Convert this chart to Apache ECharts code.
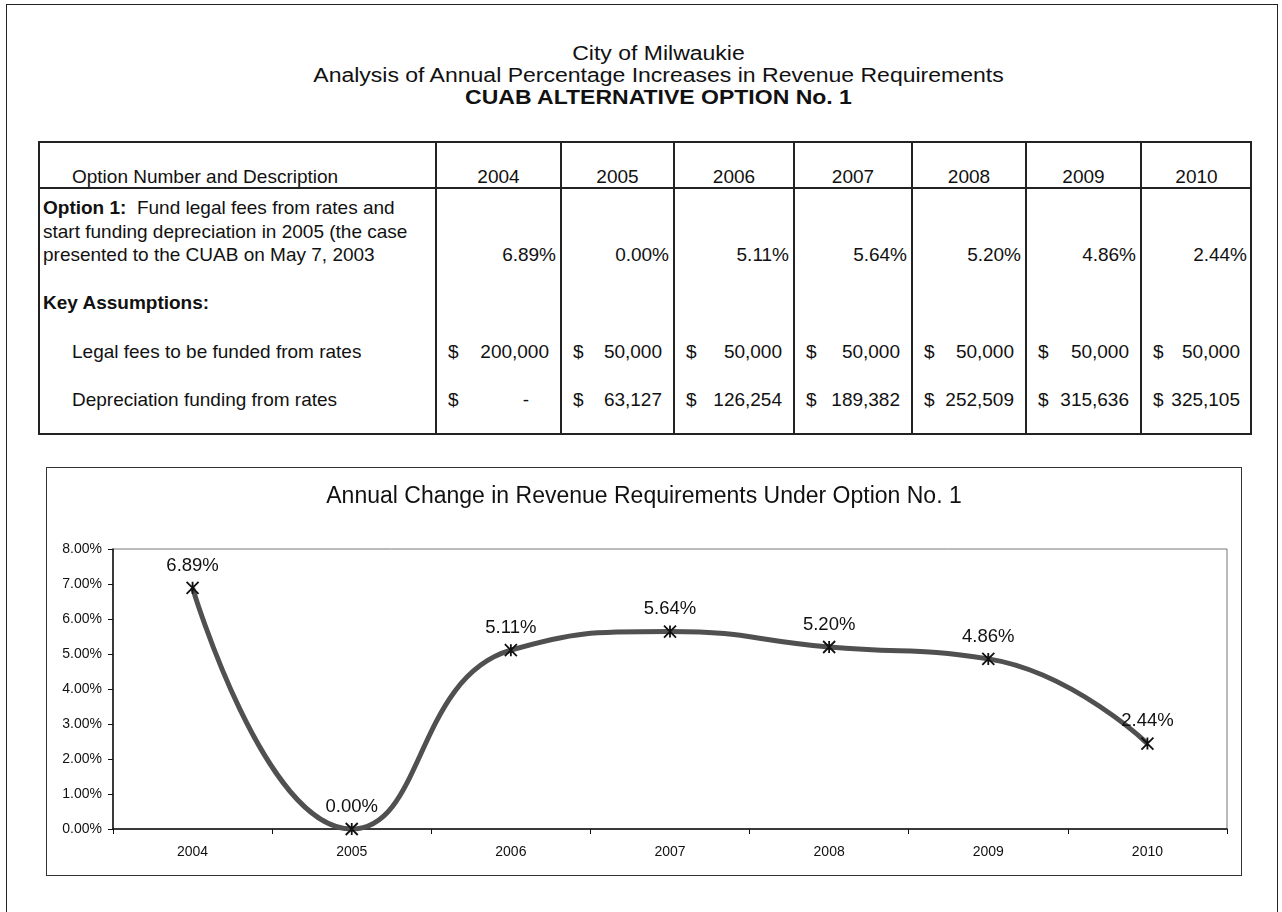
<!DOCTYPE html>
<html><head><meta charset="utf-8">
<script src="https://cdn.jsdelivr.net/npm/echarts@6/dist/echarts.min.js"></script>
<style>
html,body{margin:0;padding:0;background:#fff;}
body{width:1282px;height:912px;position:relative;overflow:hidden;font-family:"Liberation Sans",Arial,sans-serif;color:#111;}
#page{position:absolute;left:6px;top:4px;width:1270px;height:960px;border:1.5px solid #222;}
.ttl{position:absolute;left:10px;width:1300px;text-align:center;font-size:20px;line-height:24px;height:24px;white-space:nowrap;transform:scaleX(1.15);transform-origin:660px 0;}
#tbl{position:absolute;left:38px;top:141px;width:1214px;height:294px;outline:2px solid #222;outline-offset:-2px;font-size:19px;}
.vl{position:absolute;top:0;width:2px;height:100%;background:#222;}
.hl{position:absolute;left:0;height:2px;width:100%;background:#222;}
.t{position:absolute;white-space:nowrap;line-height:24px;height:24px;}
#chartbox{position:absolute;left:46px;top:467px;width:1196px;height:409px;border:1.5px solid #333;box-sizing:border-box;pointer-events:none;}
#chart{position:absolute;left:46px;top:467px;width:1196px;height:409px;}
</style></head>
<body>
<div id="page"></div>
<div id="titles"></div>
<div id="tbl"></div>
<div id="chart"></div>
<div id="chartbox"></div>
<script>
// ---- data ----
const titleLines = ['City of Milwaukie', 'Analysis of Annual Percentage Increases in Revenue Requirements', 'CUAB ALTERNATIVE OPTION No. 1'];
const years = ['2004', '2005', '2006', '2007', '2008', '2009', '2010'];
const pctChange = [6.89, 0.00, 5.11, 5.64, 5.20, 4.86, 2.44];
const legalFees = [200000, 50000, 50000, 50000, 50000, 50000, 50000];
const depreciation = [0, 63127, 126254, 189382, 252509, 315636, 325105];
const yTicks = [0, 1, 2, 3, 4, 5, 6, 7, 8];
const headerLabel = 'Option Number and Description';
const optionLines = ['Fund legal fees from rates and', 'start funding depreciation in 2005 (the case', 'presented to the CUAB on May 7, 2003'];
const keyLabel = 'Key Assumptions:';
const legalLabel = 'Legal fees to be funded from rates';
const deprLabel = 'Depreciation funding from rates';
const chartTitle = 'Annual Change in Revenue Requirements Under Option No. 1';

// ---- page titles ----
const titleY = [53, 75, 97];
titleLines.forEach((s, i) => {
  const d = document.createElement('div');
  d.className = 'ttl';
  d.textContent = s;
  d.style.top = (titleY[i] - 12) + 'px';
  if (i === 2) d.style.fontWeight = 'bold';
  document.getElementById('titles').appendChild(d);
});

// ---- table (HTML text) ----
const tbl = document.getElementById('tbl');
const TW = 1214;
const colEdges = [0, 398, 523, 636, 756, 874, 988, 1103, 1214]; // relative to table left
function addText(txt, x, yc, opts) {
  const d = document.createElement('div');
  d.className = 't';
  d.textContent = txt;
  d.style.top = (yc - 12) + 'px';
  if (opts && opts.align === 'right') { d.style.right = (TW - x) + 'px'; }
  else if (opts && opts.align === 'center') { d.style.left = (x - 100) + 'px'; d.style.width = '200px'; d.style.textAlign = 'center'; }
  else { d.style.left = x + 'px'; }
  if (opts && opts.bold) d.style.fontWeight = 'bold';
  if (opts && opts.html) d.innerHTML = opts.html;
  tbl.appendChild(d);
}
for (let i = 1; i < colEdges.length - 1; i++) {
  const v = document.createElement('div'); v.className = 'vl'; v.style.left = (colEdges[i] - 1) + 'px'; tbl.appendChild(v);
}
const h = document.createElement('div'); h.className = 'hl'; h.style.top = '46px'; tbl.appendChild(h);
const yHead = 36, yOpt = [67, 91, 114], yKey = 162, yLegal = 211, yDepr = 259;
addText(headerLabel, 34, yHead);
addText('', 5, yOpt[0], {html: '<b>Option 1:</b>&nbsp; ' + optionLines[0]});
addText(optionLines[1], 5, yOpt[1]);
addText(optionLines[2], 5, yOpt[2]);
addText(keyLabel, 5, yKey, {bold: true});
addText(legalLabel, 34, yLegal);
addText(deprLabel, 34, yDepr);
years.forEach((yr, i) => {
  const L = colEdges[i + 1], R = colEdges[i + 2];
  addText(yr, (L + R) / 2, yHead, {align: 'center'});
  addText(pctChange[i].toFixed(2) + '%', R - 5, yOpt[2], {align: 'right'});
  addText('$', L + 12, yLegal);
  addText(legalFees[i].toLocaleString('en-US'), R - 12, yLegal, {align: 'right'});
  addText('$', L + 12, yDepr);
  if (depreciation[i] === 0) addText('-', R - 32, yDepr, {align: 'right'});
  else addText(depreciation[i].toLocaleString('en-US'), R - 12, yDepr, {align: 'right'});
});

// ---- chart ----
const chart = echarts.init(document.getElementById('chart'), null, {renderer: 'canvas'});
const font = 'Liberation Sans';
chart.setOption({
  animation: false,
  backgroundColor: 'transparent',
  title: {
    text: chartTitle, left: 'center', top: 13,
    textStyle: {fontSize: 23, fontWeight: 'normal', color: '#111', fontFamily: font}
  },
  grid: {left: 67, right: 15, top: 82, bottom: 47, show: true, borderColor: '#777', borderWidth: 1},
  xAxis: {
    type: 'category', data: years, boundaryGap: true,
    axisLine: {lineStyle: {color: '#111', width: 1.5}},
    axisTick: {show: true, length: 5, lineStyle: {color: '#111'}},
    axisLabel: {fontSize: 14, color: '#111', fontFamily: font, margin: 16}
  },
  yAxis: {
    type: 'value', min: yTicks[0], max: yTicks[yTicks.length - 1], interval: 1,
    axisLine: {show: true, lineStyle: {color: '#111', width: 1.5}},
    axisTick: {show: true, length: 5, lineStyle: {color: '#111'}},
    splitLine: {show: false},
    axisLabel: {fontSize: 14, color: '#111', fontFamily: font, margin: 11,
      formatter: v => v.toFixed(2) + '%'}
  },
  series: [{
    type: 'line', data: pctChange, smooth: 0.5,
    lineStyle: {color: '#505050', width: 5},
    symbol: 'path://M0,0L10,10M10,0L0,10M5,0L5,10',
    symbolSize: 12,
    itemStyle: {color: 'rgba(0,0,0,0)', borderColor: '#111', borderWidth: 1.8},
    label: {show: true, position: 'top', distance: 6, fontSize: 18.5, color: '#111', fontFamily: font,
      formatter: p => p.value.toFixed(2) + '%'}
  }]
});
</script>
</body></html>
